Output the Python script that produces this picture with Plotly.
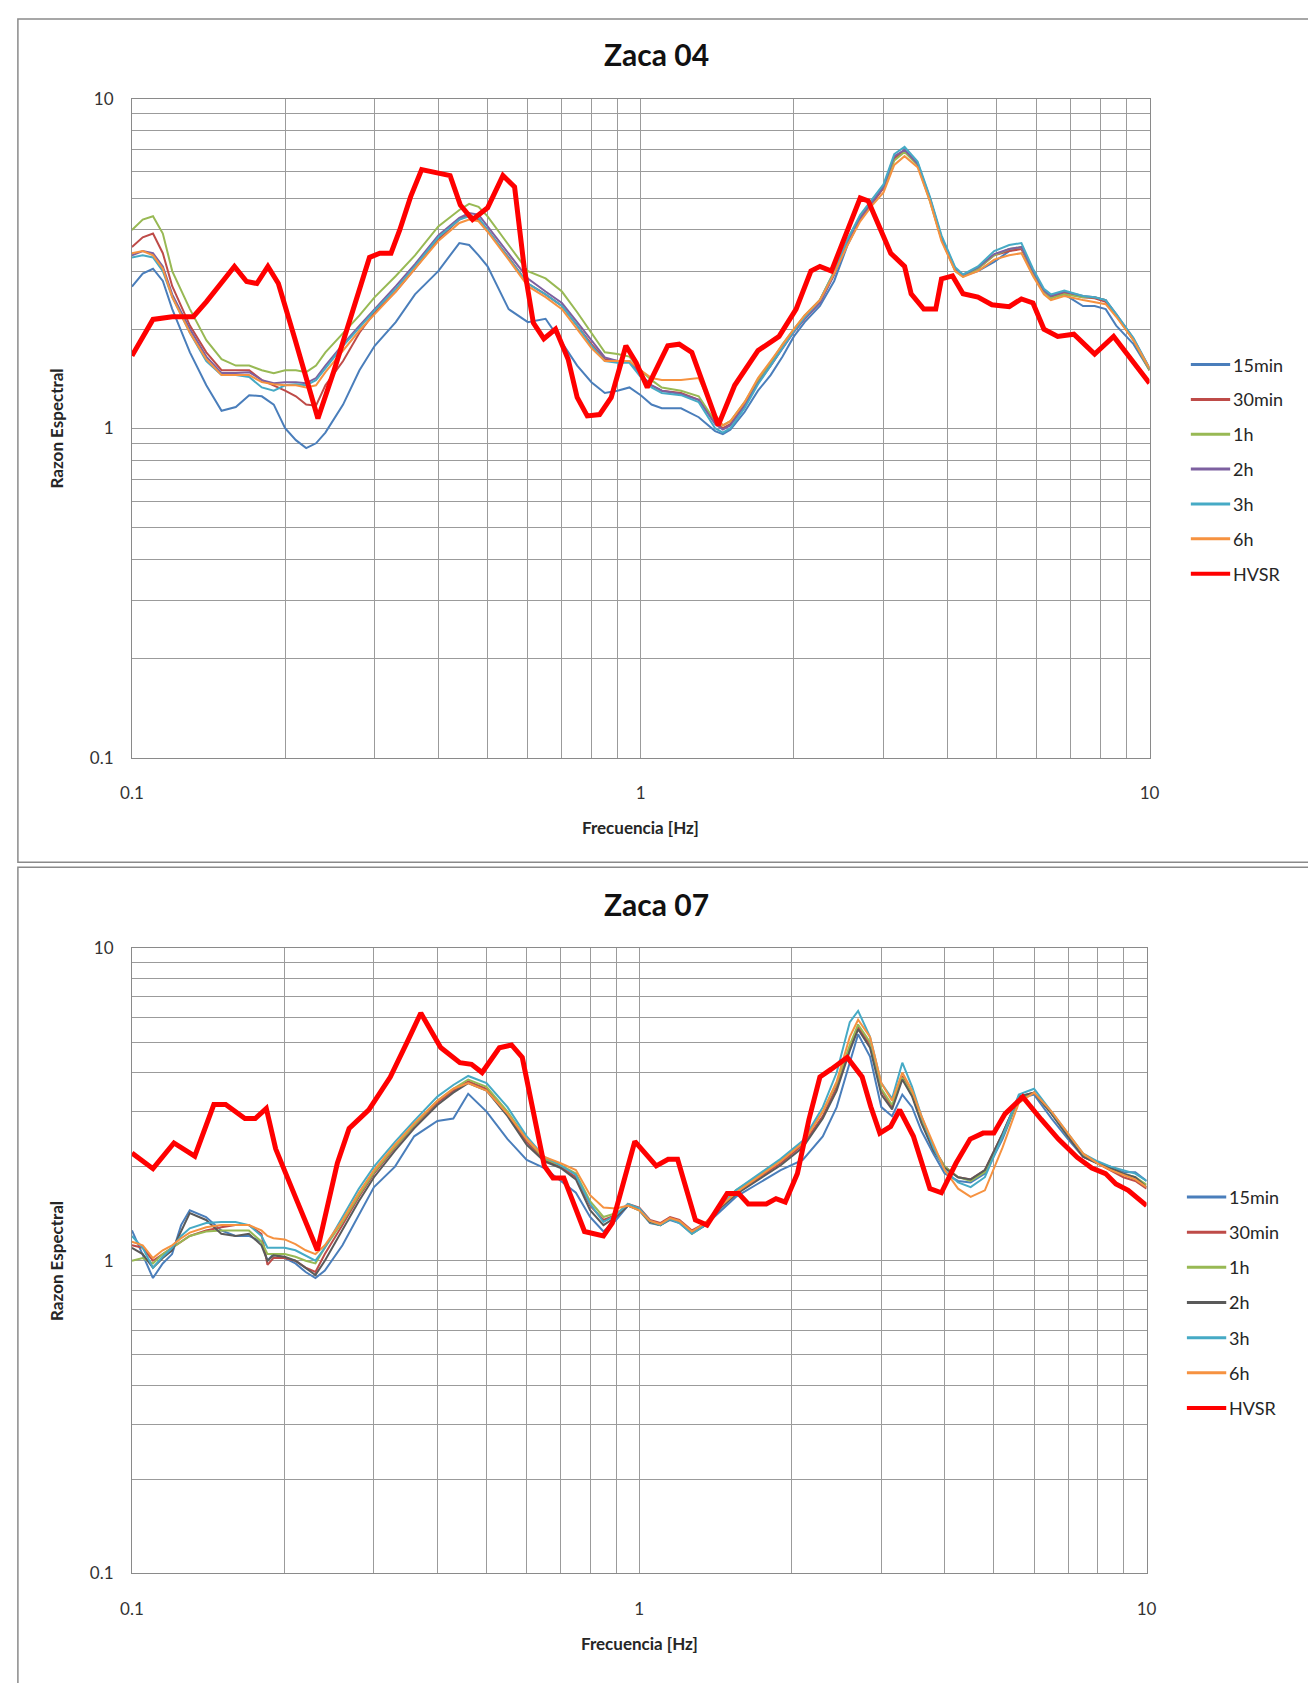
import plotly.graph_objects as go

# ---------------------------------------------------------------- data
SERIES = ["15min", "30min", "1h", "2h", "3h", "6h"]

TICK_VALS = [0.1, 0.2, 0.3, 0.4, 0.5, 0.6, 0.7, 0.8, 0.9,
             1, 2, 3, 4, 5, 6, 7, 8, 9, 10]
TICK_TEXT = ["0.1", "", "", "", "", "", "", "", "",
             "1", "", "", "", "", "", "", "", "", "10"]

# ---- Zaca 04
FREQ_04 = [0.1, 0.105, 0.11, 0.115, 0.12, 0.13, 0.14, 0.15, 0.16, 0.17,
           0.18, 0.19, 0.2, 0.21, 0.22, 0.23, 0.24, 0.26, 0.28, 0.3,
           0.33, 0.36, 0.4, 0.44, 0.46, 0.48, 0.5, 0.55, 0.6, 0.65,
           0.7, 0.75, 0.8, 0.85, 0.9, 0.95, 1.0, 1.05, 1.1, 1.2,
           1.3, 1.4, 1.45, 1.5, 1.6, 1.7, 1.8, 1.9, 2.0, 2.1,
           2.25, 2.4, 2.55, 2.7, 2.85, 3.0, 3.15, 3.3, 3.5, 3.7,
           3.9, 4.15, 4.3, 4.6, 4.95, 5.3, 5.6, 5.9, 6.2, 6.4,
           6.8, 7.4, 7.8, 8.2, 8.6, 9.3, 10]

Z04_15MIN = [2.69, 2.95, 3.05, 2.8, 2.3, 1.7, 1.35, 1.13, 1.16, 1.26,
             1.25, 1.18, 1.0, 0.92, 0.87, 0.9, 0.97, 1.18, 1.5, 1.78,
             2.1, 2.55, 3.0, 3.65, 3.6, 3.35, 3.1, 2.3, 2.1, 2.15,
             1.82, 1.55, 1.38, 1.28, 1.3, 1.33, 1.26, 1.18, 1.15, 1.15,
             1.08, 0.98, 0.96, 0.99, 1.12, 1.3, 1.45, 1.65, 1.9, 2.1,
             2.35, 2.8, 3.6, 4.3, 4.8, 5.4, 6.6, 7.0, 6.4, 5.0,
             3.8, 3.05, 2.9, 3.0, 3.2, 3.45, 3.55, 3.0, 2.6, 2.5,
             2.55, 2.35, 2.35, 2.3, 2.05, 1.8, 1.5]
Z04_30MIN = [3.55, 3.8, 3.9, 3.4, 2.7, 2.05, 1.7, 1.5, 1.5, 1.5,
             1.4, 1.35, 1.3, 1.25, 1.18, 1.17, 1.35, 1.6, 1.95, 2.25,
             2.6, 3.05, 3.75, 4.3, 4.45, 4.3, 4.0, 3.3, 2.75, 2.55,
             2.35, 2.05, 1.8, 1.62, 1.6, 1.6, 1.45, 1.35, 1.3, 1.28,
             1.22, 1.04, 1.0, 1.03, 1.18, 1.38, 1.55, 1.76, 1.97, 2.15,
             2.42, 2.95, 3.7, 4.35, 4.85, 5.35, 6.6, 6.95, 6.3, 4.95,
             3.75, 3.02, 2.9, 3.05, 3.35, 3.45, 3.5, 2.95, 2.6, 2.5,
             2.58, 2.5, 2.48, 2.42, 2.2, 1.85, 1.5]
Z04_1H = [4.0, 4.3, 4.4, 3.9, 3.0, 2.3, 1.85, 1.62, 1.55, 1.55,
          1.5, 1.47, 1.5, 1.5, 1.48, 1.55, 1.7, 1.95, 2.2, 2.5,
          2.9, 3.35, 4.1, 4.6, 4.8, 4.7, 4.4, 3.6, 3.0, 2.85,
          2.6, 2.25, 1.95, 1.7, 1.68, 1.65, 1.5, 1.4, 1.33, 1.3,
          1.25, 1.05, 1.02, 1.05, 1.2, 1.4, 1.58, 1.8, 2.0, 2.2,
          2.45, 3.0, 3.75, 4.4, 4.9, 5.4, 6.5, 6.9, 6.3, 4.9,
          3.75, 3.0, 2.88, 3.05, 3.35, 3.5, 3.55, 2.95, 2.6, 2.48,
          2.55, 2.5, 2.5, 2.45, 2.2, 1.85, 1.5]
Z04_2H = [3.35, 3.45, 3.4, 3.1, 2.55, 2.0, 1.65, 1.47, 1.47, 1.48,
          1.4, 1.37, 1.38, 1.38, 1.37, 1.42, 1.55, 1.8, 2.05, 2.3,
          2.7, 3.15, 3.85, 4.35, 4.5, 4.45, 4.1, 3.4, 2.85, 2.6,
          2.4, 2.1, 1.85, 1.64, 1.6, 1.6, 1.45, 1.35, 1.3, 1.27,
          1.22, 1.03, 0.99, 1.02, 1.17, 1.37, 1.55, 1.75, 1.96, 2.15,
          2.4, 2.92, 3.68, 4.35, 4.85, 5.4, 6.7, 7.0, 6.35, 5.0,
          3.8, 3.05, 2.92, 3.08, 3.38, 3.5, 3.55, 3.0, 2.62, 2.52,
          2.6, 2.52, 2.5, 2.45, 2.22, 1.87, 1.52]
Z04_3H = [3.3, 3.35, 3.3, 3.0, 2.5, 1.95, 1.6, 1.45, 1.45, 1.43,
          1.33, 1.3, 1.35, 1.36, 1.35, 1.4, 1.52, 1.78, 2.02, 2.28,
          2.65, 3.1, 3.8, 4.3, 4.4, 4.35, 4.0, 3.3, 2.75, 2.55,
          2.35, 2.05, 1.78, 1.6, 1.58, 1.58, 1.43, 1.33, 1.28, 1.26,
          1.2, 1.0, 0.97, 1.0, 1.15, 1.36, 1.55, 1.75, 1.97, 2.17,
          2.45, 2.98, 3.75, 4.45, 4.95, 5.5, 6.8, 7.15, 6.45, 5.05,
          3.85, 3.08, 2.93, 3.1, 3.45, 3.6, 3.65, 3.05, 2.65, 2.55,
          2.62, 2.52, 2.5, 2.45, 2.22, 1.88, 1.52]
Z04_6H = [3.4, 3.45, 3.35, 3.05, 2.5, 1.95, 1.62, 1.45, 1.45, 1.45,
          1.38, 1.36, 1.35, 1.35, 1.33, 1.35, 1.48, 1.72, 1.98, 2.22,
          2.6, 3.05, 3.7, 4.2, 4.3, 4.25, 3.95, 3.25, 2.7, 2.5,
          2.3, 2.0, 1.75, 1.6, 1.6, 1.6, 1.5, 1.42, 1.4, 1.4,
          1.42, 1.1, 1.02, 1.05, 1.2, 1.42, 1.6, 1.8, 2.0, 2.2,
          2.45, 2.95, 3.6, 4.25, 4.75, 5.2, 6.3, 6.7, 6.2, 4.9,
          3.7, 3.0, 2.88, 3.0, 3.25, 3.35, 3.4, 2.9, 2.55, 2.45,
          2.52, 2.45, 2.42, 2.38, 2.18, 1.85, 1.52]

HVSR_FREQ_04 = [0.1, 0.11, 0.12, 0.132, 0.14, 0.149, 0.159, 0.168, 0.176, 0.185,
                0.194, 0.209, 0.232, 0.249, 0.27, 0.293, 0.307, 0.323, 0.336, 0.353,
                0.371, 0.395, 0.422, 0.442, 0.467, 0.5, 0.536, 0.565, 0.59, 0.615,
                0.645, 0.68, 0.72, 0.75, 0.785, 0.83, 0.875, 0.935, 0.98, 1.03,
                1.13, 1.19, 1.26, 1.42, 1.53, 1.7, 1.87, 2.02, 2.16, 2.25,
                2.37, 2.7, 2.8, 3.1, 3.3, 3.4, 3.6, 3.8, 3.9, 4.1,
                4.3, 4.6, 4.9, 5.3, 5.6, 5.9, 6.2, 6.6, 7.1, 7.8,
                8.5, 10]
HVSR_04 = [1.66, 2.14, 2.18, 2.18, 2.42, 2.73, 3.1, 2.79, 2.75, 3.1,
           2.75, 1.87, 1.07, 1.48, 2.18, 3.3, 3.4, 3.4, 4.0, 5.05,
           6.1, 6.0, 5.85, 4.76, 4.3, 4.67, 5.85, 5.4, 3.08, 2.09,
           1.87, 2.0, 1.62, 1.24, 1.09, 1.1, 1.24, 1.78, 1.58, 1.33,
           1.78, 1.8, 1.7, 1.02, 1.35, 1.72, 1.9, 2.3, 3.0, 3.1,
           3.0, 5.0, 4.9, 3.4, 3.1, 2.56, 2.3, 2.3, 2.84, 2.9,
           2.56, 2.5, 2.37, 2.34, 2.47, 2.4, 2.0, 1.9, 1.93, 1.68,
           1.9, 1.37]

# ---- Zaca 07
FREQ_07 = [0.1, 0.105, 0.11, 0.115, 0.12, 0.125, 0.13, 0.14, 0.15, 0.16,
           0.17, 0.18, 0.185, 0.19, 0.2, 0.21, 0.22, 0.23, 0.24, 0.26,
           0.28, 0.3, 0.33, 0.36, 0.4, 0.43, 0.46, 0.5, 0.55, 0.6,
           0.65, 0.7, 0.75, 0.8, 0.85, 0.9, 0.95, 1.0, 1.05, 1.1,
           1.15, 1.2, 1.27, 1.35, 1.45, 1.55, 1.7, 1.9, 2.1, 2.3,
           2.45, 2.6, 2.7, 2.85, 3.0, 3.15, 3.3, 3.45, 3.6, 3.8,
           4.0, 4.25, 4.5, 4.8, 5.2, 5.6, 6.0, 6.5, 7.0, 7.5,
           8.0, 8.5, 9.0, 9.5, 10]

Z07_15MIN = [1.25, 1.05, 0.88, 0.98, 1.05, 1.3, 1.45, 1.38, 1.25, 1.2,
             1.2, 1.15, 1.0, 1.05, 1.02, 0.98, 0.92, 0.88, 0.93, 1.12,
             1.4, 1.72, 2.0, 2.5, 2.8, 2.85, 3.42, 3.0, 2.45, 2.1,
             1.98, 1.8, 1.65, 1.38, 1.24, 1.35, 1.5, 1.45, 1.32, 1.3,
             1.35, 1.32, 1.22, 1.3, 1.45, 1.6, 1.75, 1.95, 2.1, 2.5,
             3.1, 4.3, 5.3, 4.5, 3.1, 2.9, 3.4, 3.1, 2.6, 2.2,
             1.9, 1.8, 1.78, 1.9, 2.45, 3.3, 3.4, 2.85, 2.45, 2.15,
             2.05, 2.0, 1.92, 1.92, 1.8]
Z07_30MIN = [1.12, 1.1, 1.0, 1.05, 1.1, 1.15, 1.2, 1.25, 1.28, 1.3,
             1.3, 1.22, 0.97, 1.02, 1.02, 1.0, 0.95, 0.92, 1.05, 1.3,
             1.6, 1.9, 2.3, 2.7, 3.2, 3.5, 3.75, 3.55, 2.95, 2.4,
             2.1, 2.0, 1.85, 1.5, 1.35, 1.4, 1.52, 1.48, 1.35, 1.32,
             1.38, 1.35, 1.25, 1.32, 1.5, 1.65, 1.82, 2.05, 2.35, 2.9,
             3.6, 4.8, 5.6, 4.9, 3.5, 3.1, 3.9, 3.4, 2.8, 2.3,
             2.0, 1.85, 1.82, 1.95, 2.55, 3.35, 3.45, 2.95, 2.5, 2.15,
             2.05, 1.95, 1.85, 1.8, 1.7]
Z07_1H = [1.0, 1.02, 0.98, 1.05, 1.1, 1.15, 1.2, 1.24, 1.25, 1.25,
          1.25, 1.15, 1.05, 1.05, 1.05, 1.03, 1.0, 0.98, 1.1, 1.33,
          1.62, 1.92, 2.32, 2.72, 3.25, 3.55, 3.8, 3.6, 3.0, 2.45,
          2.12, 2.02, 1.9, 1.55, 1.38, 1.42, 1.5, 1.45, 1.33, 1.3,
          1.36, 1.33, 1.22, 1.3, 1.5, 1.68, 1.85, 2.1, 2.4, 3.0,
          3.7, 4.9, 5.7, 5.0, 3.55, 3.15, 3.85, 3.4, 2.8, 2.3,
          2.0, 1.85, 1.8, 1.92, 2.5, 3.3, 3.45, 2.95, 2.5, 2.18,
          2.05, 1.98, 1.9, 1.85, 1.75]
Z07_2H = [1.1, 1.05, 0.95, 1.02, 1.08, 1.25, 1.42, 1.35, 1.22, 1.2,
          1.22, 1.12, 1.0, 1.04, 1.03, 1.0, 0.95, 0.9, 1.0, 1.25,
          1.55, 1.85, 2.25, 2.65, 3.15, 3.45, 3.7, 3.5, 2.9, 2.35,
          2.08, 1.98, 1.82, 1.45, 1.3, 1.38, 1.5, 1.46, 1.33, 1.3,
          1.36, 1.33, 1.23, 1.3, 1.48, 1.63, 1.8, 2.02, 2.3, 2.85,
          3.5, 4.7, 5.5, 4.8, 3.4, 3.05, 3.8, 3.35, 2.75, 2.25,
          1.98, 1.85, 1.82, 1.95, 2.55, 3.35, 3.45, 2.95, 2.5, 2.15,
          2.05, 1.98, 1.9, 1.85, 1.72]
Z07_3H = [1.2, 1.1, 0.95, 1.03, 1.1, 1.2, 1.27, 1.32, 1.33, 1.33,
          1.3, 1.2, 1.1, 1.1, 1.1, 1.08, 1.04, 1.0, 1.1, 1.38,
          1.7, 2.0, 2.4, 2.8, 3.35, 3.65, 3.9, 3.7, 3.1, 2.5,
          2.15, 2.02, 1.88, 1.52, 1.33, 1.4, 1.52, 1.47, 1.34, 1.3,
          1.36, 1.32, 1.22, 1.3, 1.5, 1.68, 1.87, 2.12, 2.42, 3.1,
          4.0, 5.8, 6.3, 5.2, 3.7, 3.3, 4.3, 3.6, 2.9, 2.3,
          1.95, 1.78, 1.72, 1.85, 2.5, 3.4, 3.55, 3.0, 2.55, 2.2,
          2.08, 2.0, 1.95, 1.9, 1.8]
Z07_6H = [1.15, 1.12, 1.02, 1.08, 1.12, 1.18, 1.23, 1.28, 1.3, 1.3,
          1.3, 1.25, 1.2, 1.18, 1.17, 1.13, 1.08, 1.05, 1.12, 1.35,
          1.65, 1.95, 2.35, 2.75, 3.25, 3.55, 3.7, 3.5, 2.95, 2.45,
          2.15, 2.05, 1.95, 1.62, 1.48, 1.47, 1.5, 1.45, 1.34, 1.31,
          1.37, 1.34, 1.24, 1.32, 1.5, 1.65, 1.83, 2.08, 2.38, 3.0,
          3.75, 5.2, 5.9, 5.2, 3.7, 3.25, 4.0, 3.5, 2.9, 2.35,
          1.95, 1.7, 1.6, 1.68, 2.3, 3.2, 3.45, 3.0, 2.55, 2.2,
          2.05, 1.95, 1.88, 1.82, 1.72]

HVSR_FREQ_07 = [0.1, 0.11, 0.121, 0.133, 0.145, 0.153, 0.167, 0.175, 0.184, 0.192,
                0.212, 0.232, 0.254, 0.268, 0.293, 0.323, 0.35, 0.371, 0.406, 0.443,
                0.467, 0.49, 0.53, 0.56, 0.588, 0.65, 0.676, 0.71, 0.78, 0.85,
                0.885, 0.98, 1.08, 1.14, 1.19, 1.29, 1.36, 1.49, 1.57, 1.64,
                1.78, 1.86, 1.94, 2.05, 2.16, 2.27, 2.39, 2.57, 2.75, 2.86,
                2.98, 3.13, 3.26, 3.47, 3.74, 3.94, 4.21, 4.49, 4.76, 5.0,
                5.26, 5.7, 6.2, 6.7, 7.3, 7.8, 8.3, 8.7, 9.2, 10]
HVSR_07 = [2.21, 1.97, 2.38, 2.16, 3.16, 3.16, 2.85, 2.85, 3.07, 2.28,
           1.54, 1.08, 2.05, 2.65, 3.04, 3.87, 5.07, 6.2, 4.81, 4.3,
           4.25, 4.0, 4.8, 4.9, 4.47, 2.01, 1.84, 1.84, 1.24, 1.2,
           1.32, 2.41, 2.01, 2.11, 2.11, 1.35, 1.3, 1.64, 1.64, 1.52,
           1.52, 1.58, 1.54, 1.9, 2.83, 3.87, 4.1, 4.47, 3.87, 3.11,
           2.56, 2.69, 3.04, 2.5, 1.7, 1.65, 2.05, 2.45, 2.56, 2.56,
           2.95, 3.34, 2.83, 2.45, 2.14, 1.98, 1.9, 1.76, 1.68, 1.5]

# ---------------------------------------------------------------- styling
W, H = 1308, 1683
FONT = "Lato"
TEXT = "#262626"
GRID = "#9b9b9b"
FRAME = "#8a8a8a"
HVSR_COLOR = "#FF0000"
COLORS_04 = ["#4A7EBB", "#BE4B48", "#98B954", "#7D60A0", "#46AAC5", "#F69240"]
COLORS_07 = ["#4A7EBB", "#BE4B48", "#98B954", "#5A5A5A", "#46AAC5", "#F69240"]


def px(x):
    return x / W


def py(y):
    return 1 - y / H


panels = [
    dict(title="Zaca 04", freq=FREQ_04,
         values=[Z04_15MIN, Z04_30MIN, Z04_1H, Z04_2H, Z04_3H, Z04_6H],
         colors=COLORS_04, hv_f=HVSR_FREQ_04, hv_v=HVSR_04,
         xa="x", ya="y", left=122, right=1157, top=89, bottom=756,
         frame=(6, 8, 1320, 862), title_y=44, xtitle_y=827,
         leg_x=1199, leg_y=358, leg_dy=35.3),
    dict(title="Zaca 07", freq=FREQ_07,
         values=[Z07_15MIN, Z07_30MIN, Z07_1H, Z07_2H, Z07_3H, Z07_6H],
         colors=COLORS_07, hv_f=HVSR_FREQ_07, hv_v=HVSR_07,
         xa="x2", ya="y2", left=122, right=1154, top=949, bottom=1582,
         frame=(6, 867, 1320, 1700), title_y=904, xtitle_y=1653,
         leg_x=1195, leg_y=1201, leg_dy=35.6),
]

fig = go.Figure()
shapes = []
annotations = []
layout_axes = {}

for p in panels:
    for name, vals, color in zip(SERIES, p["values"], p["colors"]):
        fig.add_trace(go.Scatter(
            x=p["freq"], y=vals, mode="lines", name=name, showlegend=False,
            line=dict(color=color, width=2), xaxis=p["xa"], yaxis=p["ya"]))
    fig.add_trace(go.Scatter(
        x=p["hv_f"], y=p["hv_v"], mode="lines", name="HVSR", showlegend=False,
        line=dict(color=HVSR_COLOR, width=5), xaxis=p["xa"], yaxis=p["ya"]))

    axis_common = dict(
        type="log", range=[-1, 1], tickmode="array",
        tickvals=TICK_VALS, ticktext=TICK_TEXT,
        showgrid=True, gridcolor=GRID, gridwidth=1,
        showline=True, linecolor=FRAME, linewidth=1, mirror=True,
        zeroline=False, ticks="",
        tickfont=dict(family=FONT, size=17, color="#333333"),
    )
    xkey = "xaxis" if p["xa"] == "x" else "xaxis2"
    ykey = "yaxis" if p["ya"] == "y" else "yaxis2"
    layout_axes[xkey] = dict(axis_common, domain=[px(p["left"]), px(p["right"])],
                             anchor=p["ya"], ticklabelstandoff=20)
    layout_axes[ykey] = dict(axis_common, domain=[py(p["bottom"]), py(p["top"])],
                             anchor=p["xa"], ticklabelstandoff=14)

    # panel frame
    fx0, fy0, fx1, fy1 = p["frame"]
    shapes.append(dict(type="rect", xref="paper", yref="paper",
                       x0=px(fx0), x1=px(fx1), y0=py(fy1), y1=py(fy0),
                       line=dict(color=FRAME, width=1.5), layer="below"))

    cx = (p["left"] + p["right"]) / 2
    cy = (p["top"] + p["bottom"]) / 2
    annotations.append(dict(text="<b>%s</b>" % p["title"], xref="paper", yref="paper",
                            x=px(656), y=py(p["title_y"]), xanchor="center", yanchor="middle",
                            showarrow=False, font=dict(family=FONT, size=30, color="#111111")))
    annotations.append(dict(text="<b>Frecuencia [Hz]</b>", xref="paper", yref="paper",
                            x=px(cx), y=py(p["xtitle_y"]), xanchor="center", yanchor="middle",
                            showarrow=False, font=dict(family=FONT, size=17, color=TEXT)))
    annotations.append(dict(text="<b>Razon Espectral</b>", xref="paper", yref="paper",
                            x=px(45), y=py(cy), xanchor="center", yanchor="middle",
                            textangle=-90, showarrow=False,
                            font=dict(family=FONT, size=17, color=TEXT)))

    # legend drawn beside the plot area
    names = SERIES + ["HVSR"]
    cols = p["colors"] + [HVSR_COLOR]
    for i, (name, color) in enumerate(zip(names, cols)):
        yy = p["leg_y"] + i * p["leg_dy"]
        shapes.append(dict(type="line", xref="paper", yref="paper",
                           x0=px(p["leg_x"]), x1=px(p["leg_x"] + 40),
                           y0=py(yy), y1=py(yy),
                           line=dict(color=color, width=4 if name == "HVSR" else 3)))
        annotations.append(dict(text=name, xref="paper", yref="paper",
                                x=px(p["leg_x"] + 41), y=py(yy),
                                xanchor="left", yanchor="middle", showarrow=False,
                                font=dict(family=FONT, size=18, color=TEXT)))

fig.update_layout(
    width=W, height=H,
    margin=dict(l=0, r=0, t=0, b=0, pad=0),
    paper_bgcolor="white", plot_bgcolor="white",
    showlegend=False,
    shapes=shapes, annotations=annotations,
    **layout_axes,
)

fig.write_html("out.html")
